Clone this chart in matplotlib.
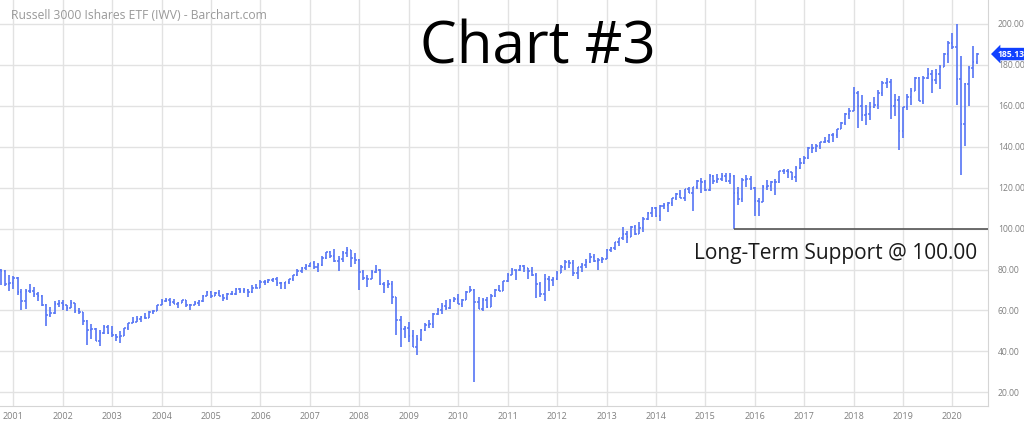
import numpy as np
import pandas as pd
import matplotlib
matplotlib.use('Agg')
import matplotlib.pyplot as plt
import matplotlib.dates as mdates

plt.rcParams['font.family'] = ['Open Sans', 'DejaVu Sans']

# monthly OHLC of IWV, Oct 2000 .. Jul 2020
opens = [
    79.7, 79.3, 73.0,
    73.3, 75.8, 68.8, 64.4, 69.3, 69.7, 67.9, 67.2, 62.9, 57.8, 58.8, 63.2,
    63.7, 62.7, 61.4, 63.7, 59.7, 59.2, 54.9, 50.6, 50.8, 45.2, 49.2, 51.9,
    48.8, 47.9, 47.1, 47.5, 51.4, 54.0, 54.6, 55.9, 57.0, 56.3, 59.4, 59.8,
    62.8, 64.5, 65.3, 64.2, 63.1, 63.9, 65.0, 62.8, 62.9, 63.6, 64.4, 66.9,
    69.1, 67.3, 68.6, 67.3, 65.9, 67.9, 67.9, 70.3, 69.5, 70.1, 68.8, 71.2,
    71.1, 73.9, 73.9, 74.7, 75.6, 73.3, 73.3, 73.7, 75.2, 77.1, 79.5, 80.8,
    81.8, 83.0, 81.2, 82.0, 85.5, 88.3, 86.7, 84.0, 85.1, 88.1, 89.4, 85.5,
    84.7, 78.6, 75.9, 75.4, 79.0, 79.8, 73.0, 72.2, 73.1, 66.5, 55.2, 51.1,
    51.5, 47.7, 42.4, 46.0, 50.4, 53.0, 53.3, 58.2, 60.2, 62.4, 61.1, 64.7,
    65.8, 63.4, 65.1, 69.0, 70.0, 64.3, 60.8, 65.0, 61.9, 67.3, 69.8, 69.7,
    74.2, 77.2, 79.6, 79.6, 81.8, 80.7, 79.3, 77.5, 73.1, 67.9, 75.2, 74.8,
    75.5, 78.2, 81.4, 83.9, 83.3, 78.1, 81.2, 82.2, 83.9, 85.9, 84.2, 84.4,
    85.0, 89.3, 90.3, 93.5, 95.2, 97.2, 95.7, 100.5, 97.3, 100.2, 104.7, 107.6,
    110.1, 106.3, 110.8, 111.6, 112.3, 114.7, 116.8, 115.1, 119.4, 117.5, 120.3, 123.3,
    122.7, 118.9, 125.5, 123.3, 124.3, 125.6, 123.0, 125.4, 117.5, 114.4, 123.9, 124.0,
    120.0, 113.5, 113.0, 120.5, 120.8, 122.7, 122.8, 128.0, 127.9, 127.7, 125.2, 129.5,
    131.9, 134.2, 139.2, 139.2, 140.4, 142.1, 142.7, 145.5, 145.6, 148.4, 151.7, 156.0,
    157.5, 166.3, 159.9, 155.6, 156.0, 159.3, 160.1, 165.9, 170.9, 171.6, 159.7, 162.6,
    147.7, 159.3, 164.0, 166.9, 173.5, 162.1, 173.3, 175.5, 172.3, 175.3, 178.9, 185.0,
    190.3, 188.7, 172.8, 151.2, 170.4, 178.1, 181.4,
]
highs = [
    80.1, 79.8, 77.1,
    76.8, 76.4, 70.3, 70.4, 73.0, 71.4, 68.8, 67.6, 63.0, 61.6, 64.5, 65.1,
    65.3, 62.8, 65.1, 63.7, 61.4, 59.4, 55.2, 53.6, 51.3, 50.3, 52.8, 52.9,
    52.4, 48.4, 50.2, 51.7, 54.1, 56.8, 57.3, 57.2, 58.8, 59.6, 60.1, 62.8,
    65.8, 66.1, 66.3, 65.6, 64.3, 65.3, 65.0, 63.3, 64.5, 65.1, 67.7, 69.4,
    69.4, 69.1, 70.1, 67.9, 68.4, 69.5, 71.0, 71.0, 70.9, 70.3, 72.4, 72.7,
    74.7, 74.8, 75.6, 76.0, 76.5, 74.1, 74.0, 75.4, 77.3, 80.1, 81.2, 82.6,
    83.1, 84.3, 83.0, 86.4, 88.6, 88.9, 89.8, 86.8, 88.8, 90.9, 89.5, 87.9,
    84.9, 79.6, 77.5, 80.0, 82.1, 80.1, 73.7, 74.8, 74.3, 66.5, 57.4, 52.4,
    54.5, 50.5, 48.0, 51.2, 53.7, 55.4, 58.8, 61.3, 63.7, 65.0, 65.7, 66.7,
    67.9, 65.6, 69.6, 72.0, 70.7, 66.7, 66.1, 66.6, 67.9, 70.6, 72.4, 74.5,
    78.2, 80.7, 79.9, 82.2, 82.2, 80.8, 81.4, 78.4, 73.8, 77.6, 76.7, 76.1,
    79.4, 82.1, 84.6, 84.8, 84.4, 81.3, 83.0, 85.0, 87.9, 87.7, 85.5, 86.3,
    89.9, 91.2, 93.6, 95.2, 100.5, 98.6, 101.2, 101.9, 103.1, 105.8, 108.1, 110.3,
    110.3, 111.3, 112.3, 113.1, 114.7, 117.3, 118.7, 119.5, 120.3, 120.3, 123.7, 124.7,
    123.5, 126.4, 126.2, 126.7, 127.2, 126.9, 127.1, 125.9, 120.5, 124.8, 126.2, 125.4,
    120.2, 114.8, 121.3, 123.5, 123.0, 124.0, 128.3, 129.2, 128.9, 127.8, 130.4, 134.2,
    135.5, 139.7, 141.4, 141.2, 142.4, 144.5, 146.3, 146.7, 148.4, 152.1, 156.5, 158.7,
    169.2, 167.0, 165.0, 160.1, 161.5, 164.4, 167.8, 171.8, 173.2, 173.1, 165.8, 164.9,
    159.5, 165.7, 168.5, 173.8, 174.0, 174.6, 178.3, 177.5, 178.0, 179.6, 185.8, 191.3,
    195.5, 200.0, 184.0, 171.0, 179.5, 189.0, 185.4,
]
lows = [
    72.4, 71.8, 69.6,
    70.7, 67.4, 60.0, 60.6, 68.4, 66.8, 64.7, 62.4, 52.4, 56.9, 58.5, 61.8,
    60.0, 59.6, 61.2, 59.0, 58.2, 52.8, 43.0, 46.2, 45.2, 42.7, 48.5, 48.4,
    47.1, 45.1, 44.2, 47.4, 50.5, 53.9, 54.4, 54.2, 56.0, 56.3, 58.3, 59.6,
    62.8, 64.1, 62.0, 63.1, 61.3, 63.5, 61.5, 60.4, 62.8, 62.2, 64.2, 66.9,
    66.3, 67.3, 67.0, 64.8, 65.3, 67.7, 67.5, 68.5, 68.7, 66.6, 68.5, 71.0,
    71.1, 72.3, 73.2, 73.9, 71.8, 70.3, 70.6, 72.8, 74.4, 76.6, 78.5, 79.9,
    81.0, 80.1, 78.7, 81.7, 85.2, 85.6, 83.8, 79.1, 83.7, 85.9, 81.2, 82.9,
    70.0, 75.1, 71.6, 75.3, 78.3, 72.5, 68.4, 71.1, 63.0, 47.8, 42.2, 46.5,
    44.5, 42.4, 38.5, 45.2, 50.0, 51.5, 51.3, 57.7, 58.5, 60.2, 60.7, 64.1,
    63.2, 61.7, 65.0, 68.9, 25.0, 60.7, 59.6, 61.4, 61.9, 66.8, 69.3, 69.6,
    74.0, 77.1, 74.9, 79.2, 78.7, 75.5, 77.0, 66.1, 66.8, 64.5, 69.5, 72.1,
    75.0, 78.1, 79.9, 80.9, 77.0, 75.5, 79.0, 80.7, 83.2, 83.6, 80.0, 83.3,
    85.0, 88.5, 89.5, 91.5, 94.2, 93.0, 95.7, 97.0, 97.3, 98.1, 104.1, 105.4,
    105.5, 103.5, 109.3, 108.1, 111.0, 114.1, 115.0, 113.5, 117.1, 108.5, 119.3, 117.5,
    118.5, 118.1, 121.6, 122.1, 123.3, 122.6, 121.8, 100.0, 111.6, 112.8, 120.3, 118.8,
    106.0, 105.9, 113.0, 119.0, 118.5, 116.5, 122.2, 126.5, 124.8, 123.5, 122.7, 128.9,
    131.5, 133.8, 136.8, 137.2, 138.6, 141.7, 141.8, 142.4, 144.1, 148.4, 150.6, 153.4,
    157.5, 149.2, 152.3, 150.4, 152.8, 158.9, 158.5, 164.7, 168.7, 153.4, 155.0, 138.2,
    144.0, 157.9, 160.4, 166.9, 162.0, 160.7, 173.0, 166.2, 170.3, 168.2, 178.9, 180.8,
    187.5, 160.5, 126.1, 140.2, 160.0, 173.5, 180.5,
]
closes = [
    79.3, 73.0, 73.3,
    75.8, 68.8, 64.4, 69.3, 69.7, 67.9, 67.2, 62.9, 57.8, 58.8, 63.2, 63.7,
    62.7, 61.4, 63.7, 59.7, 59.2, 54.9, 50.6, 50.8, 45.2, 49.2, 51.9, 48.8,
    47.9, 47.1, 47.5, 51.4, 54.0, 54.6, 55.9, 57.0, 56.3, 59.4, 59.8, 62.8,
    64.5, 65.3, 64.2, 63.1, 63.9, 65.0, 62.8, 62.9, 63.6, 64.4, 66.9, 69.1,
    67.3, 68.6, 67.3, 65.9, 67.9, 67.9, 70.3, 69.5, 70.1, 68.8, 71.2, 71.1,
    73.9, 73.9, 74.7, 75.6, 73.3, 73.3, 73.7, 75.2, 77.1, 79.5, 80.8, 81.8,
    83.0, 81.2, 82.0, 85.5, 88.3, 86.7, 84.0, 85.1, 88.1, 89.4, 85.5, 84.7,
    78.6, 75.9, 75.4, 79.0, 79.8, 73.0, 72.2, 73.1, 66.5, 55.2, 51.1, 51.5,
    47.7, 42.4, 46.0, 50.4, 53.0, 53.3, 58.2, 60.2, 62.4, 61.1, 64.7, 65.8,
    63.4, 65.1, 69.0, 70.0, 64.3, 60.8, 65.0, 61.9, 67.3, 69.8, 69.7, 74.2,
    77.2, 79.6, 79.6, 81.8, 80.7, 79.3, 77.5, 73.1, 67.9, 75.2, 74.8, 75.5,
    78.2, 81.4, 83.9, 83.3, 78.1, 81.2, 82.2, 83.9, 85.9, 84.2, 84.4, 85.0,
    89.3, 90.3, 93.5, 95.2, 97.2, 95.7, 100.5, 97.3, 100.2, 104.7, 107.6, 110.1,
    106.3, 110.8, 111.6, 112.3, 114.7, 116.8, 115.1, 119.4, 117.5, 120.3, 123.3, 122.7,
    118.9, 125.5, 123.3, 124.3, 125.6, 123.0, 125.4, 117.5, 114.4, 123.9, 124.0, 120.0,
    113.5, 113.0, 120.5, 120.8, 122.7, 122.8, 128.0, 127.9, 127.7, 125.2, 129.5, 131.9,
    134.2, 139.2, 139.2, 140.4, 142.1, 142.7, 145.5, 145.6, 148.4, 151.7, 156.0, 157.5,
    166.3, 159.9, 155.6, 156.0, 159.3, 160.1, 165.9, 170.9, 171.6, 159.7, 162.6, 147.7,
    159.3, 164.0, 166.9, 173.5, 162.1, 173.3, 175.5, 172.3, 175.3, 178.9, 185.0, 190.3,
    188.7, 172.8, 151.2, 170.4, 178.1, 181.4, 185.13,
]
support_level = 100.0
support_start = '2015-08-01'
last_price = closes[-1]

months = pd.date_range('2000-10-01', periods=len(closes), freq='MS')
x = mdates.date2num(months)

fig = plt.figure(figsize=(10.24, 4.24), dpi=100)
ax = fig.add_axes([0, 18 / 424, 988 / 1024, 406 / 424])

x0 = mdates.date2num(pd.Timestamp('2000-09-24'))
x1 = mdates.date2num(pd.Timestamp('2020-09-20'))
ax.set_xlim(x0, x1)
ax.set_ylim(13.4, 211.5)

bar_col = '#5574f5'
tick = 11
ax.vlines(x, lows, highs, color=bar_col, lw=1.2)
ax.hlines(opens, x - tick, x, color=bar_col, lw=1.1)
ax.hlines(closes, x, x + tick, color=bar_col, lw=1.1)

# support line
ax.hlines(support_level, mdates.date2num(pd.Timestamp(support_start)), x1,
          color='#555555', lw=1.2, zorder=3)
ax.text(0.989, 85.0, 'Long-Term Support @ 100.00', transform=ax.get_yaxis_transform(),
        ha='right', va='baseline', fontsize=15, color='#1a1a1a')

ax.set_axisbelow(True)
ax.grid(color='#e2e2e2', lw=1)
for s in ['left', 'top']:
    ax.spines[s].set_visible(False)
for s in ['right', 'bottom']:
    ax.spines[s].set_color('#d5d5d5')

ax.yaxis.tick_right()
ax.set_yticks(np.arange(20, 201, 20))
ax.yaxis.set_major_formatter(plt.FuncFormatter(lambda v, p: f'{v:.2f}'))
ax.xaxis.set_major_locator(mdates.YearLocator())
ax.xaxis.set_major_formatter(mdates.DateFormatter('%Y'))
ax.tick_params(axis='y', length=0, pad=7, labelsize=6.2, labelcolor='#808080')
ax.tick_params(axis='x', length=0, pad=4, labelsize=6.5, labelcolor='#808080')

# last price flag
ax.annotate(f'{last_price:.2f}', xy=(1.0, last_price), xycoords=('axes fraction', 'data'),
            xytext=(7, 0), textcoords='offset points', ha='left', va='center',
            fontsize=6.2, fontweight='bold', color='white', annotation_clip=False,
            bbox=dict(boxstyle='larrow,pad=0.2', fc='#1040ff', ec='none'))

fig.text(538 / 1024, 1 - 63 / 424, 'Chart #3', ha='center', va='baseline',
         fontsize=42, color='black')
fig.text(11 / 1024, 1 - 19 / 424, 'Russell 3000 Ishares ETF (IWV) - Barchart.com',
         ha='left', va='baseline', fontsize=8.7, color='#999999')

fig.savefig('out.png', dpi=100)
